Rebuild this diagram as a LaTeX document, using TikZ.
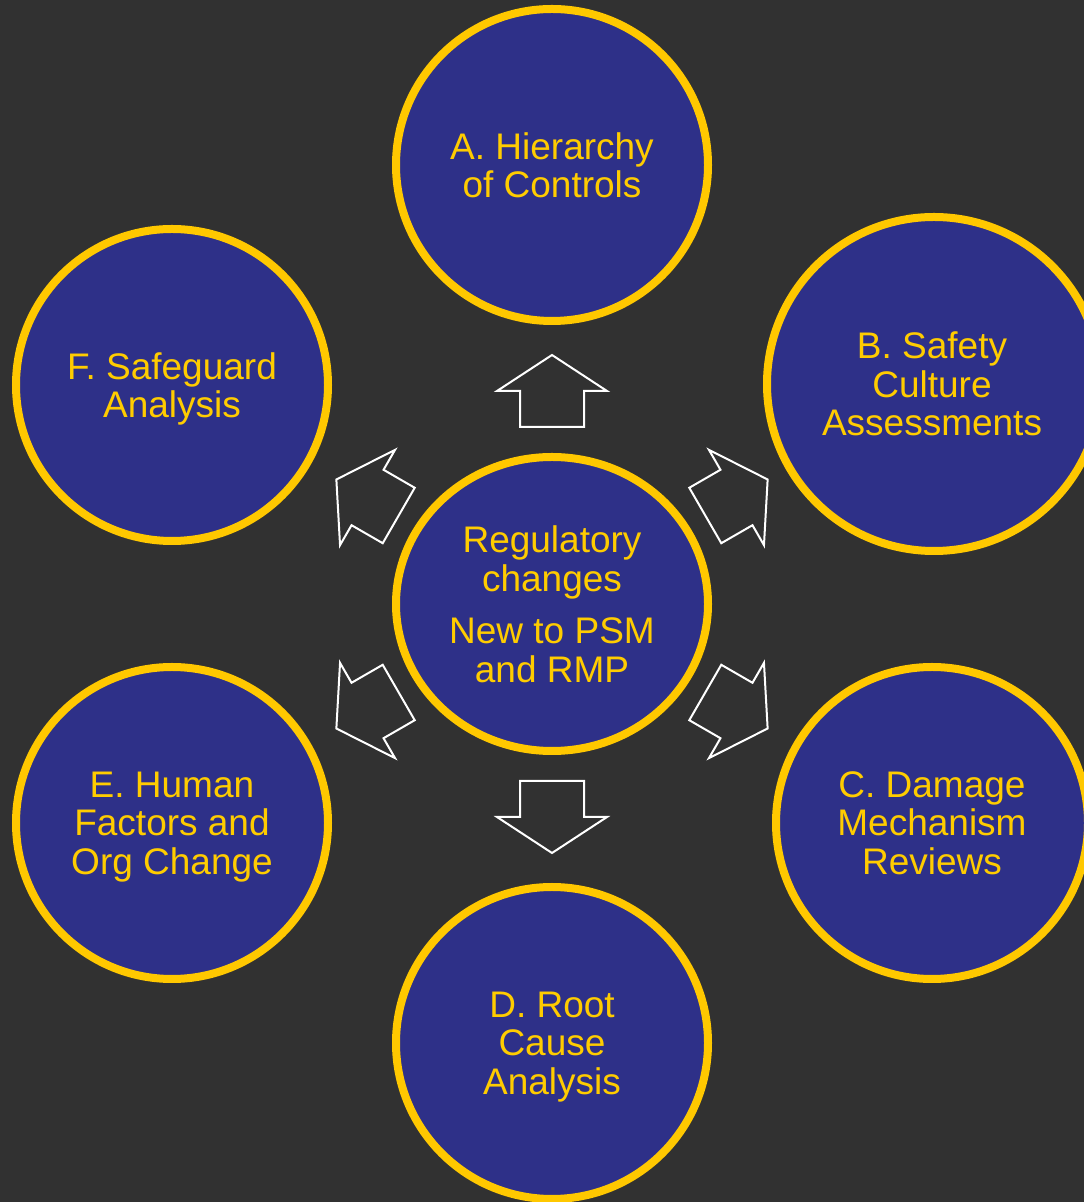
\documentclass[tikz,border=0pt]{standalone}
\usepackage{fontspec}
\setmainfont{Liberation Sans}
\usetikzlibrary{shapes.geometric,shadows,calc}
\definecolor{bg}{HTML}{313131}
\definecolor{navy}{HTML}{2E3088}
\definecolor{gold}{HTML}{FFC800}
\definecolor{txt}{HTML}{FFCC00}
\begin{document}
\begin{tikzpicture}[x=1pt,y=1pt,
  bubble/.style={circle, draw=gold, line width=8pt, fill=navy, text=txt,
    minimum size=312pt, inner sep=0pt, align=center,
    font=\fontsize{37}{38.5}\selectfont, text depth=0pt,
    drop shadow={shadow xshift=2pt,shadow yshift=-2pt,opacity=0.35}},
  hub/.style={bubble, ellipse, minimum width=312pt, minimum height=294pt},
  blockarrow/.style={draw=white, line width=2pt, fill=bg, line join=miter}
]
\fill[bg] (0,0) rectangle (1084,1202);
\clip (0,0) rectangle (1084,1202);
\useasboundingbox (0,0) rectangle (1084,1202);

\node[hub] (ctr) at (552,598) {Regulatory\\changes\\[14pt]New to PSM\\and RMP};
\node[bubble] (A) at (552,1037) {A. Hierarchy\\of Controls};
\node[bubble, minimum size=334pt] (B) at (934,818) {\hspace*{-4pt}B. Safety\\\hspace*{-4pt}Culture\\\hspace*{-4pt}Assessments};
\node[bubble] (C) at (932,379) {C. Damage\\Mechanism\\Reviews};
\node[bubble] (D) at (552,159) {D. Root\\Cause\\Analysis};
\node[bubble] (E) at (172,379) {E. Human\\Factors and\\Org Change};
\node[bubble] (F) at (172,817) {F. Safeguard\\Analysis};

\foreach \ang/\nm in {90/aA,30/aB,-30/aC,-90/aD,210/aE,150/aF} {
  \coordinate (\nm) at ($(ctr.center)+(\ang:213)$);
  \draw[blockarrow, shift={(\nm)}, rotate=\ang]
    (36,0) -- (0,55) -- (0,32) -- (-36,32) -- (-36,-32) -- (0,-32) -- (0,-55) -- cycle;
}
\end{tikzpicture}
\end{document}
